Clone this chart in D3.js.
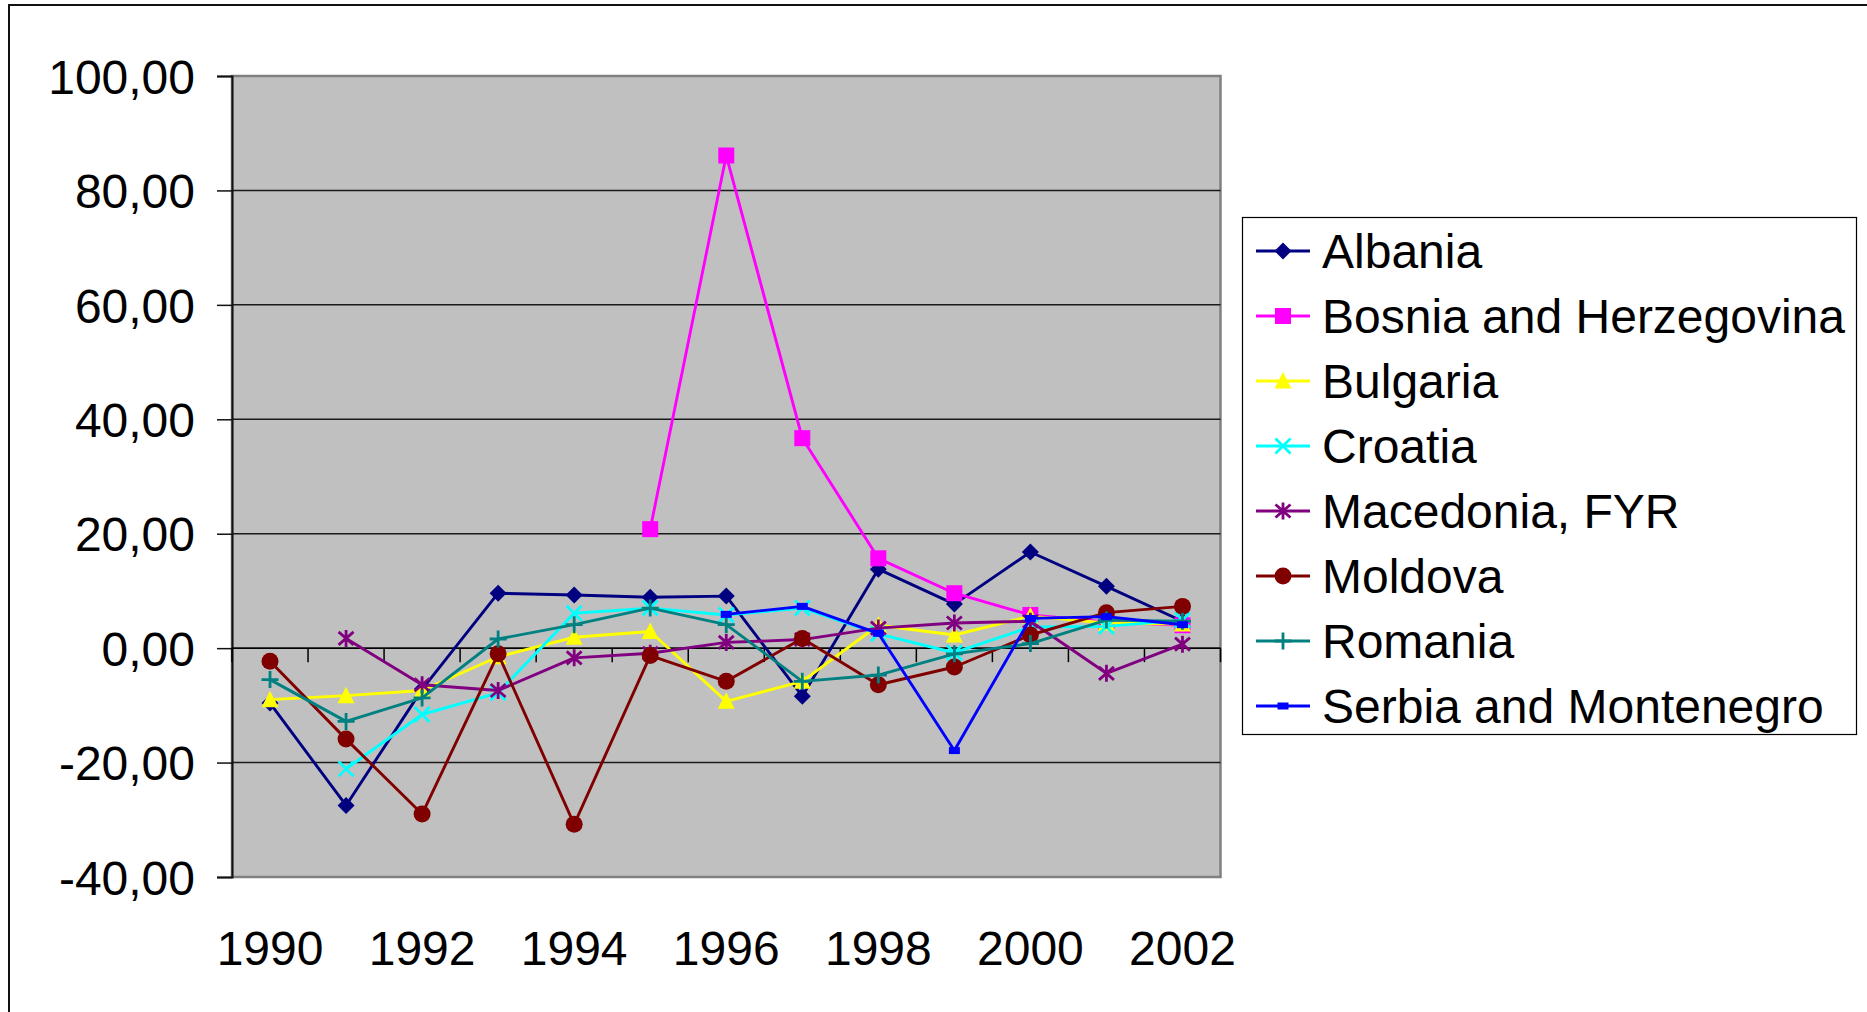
<!DOCTYPE html>
<html><head><meta charset="utf-8">
<script src="https://cdn.jsdelivr.net/npm/d3@7"></script>
<style>
body{margin:0;background:#fff;overflow:hidden}
svg{display:block}
text{font-family:"Liberation Sans",Arial,sans-serif;fill:#000}
</style>
</head><body>
<svg id="chart" width="1867" height="1012"></svg>
<script>
const years = [1990,1991,1992,1993,1994,1995,1996,1997,1998,1999,2000,2001,2002];
const xLabelYears = [1990,1992,1994,1996,1998,2000,2002];
const yTicks = [-40,-20,0,20,40,60,80,100];

const seriesNames = ["Albania","Bosnia and Herzegovina","Bulgaria","Croatia","Macedonia, FYR","Moldova","Romania","Serbia and Montenegro"];
const seriesColors = ["#000080","#FF00FF","#FFFF00","#00FFFF","#800080","#800000","#008080","#0000FF"];
const seriesMarkers = ["diamond","square","triangle","x","asterisk","circle","plus","dash"];

const albania   = [-9.6,-27.5,-7.2,9.6,9.3,8.9,9.1,-8.4,13.8,7.7,16.8,10.8,4.7];
const bosnia    = [null,null,null,null,null,20.8,86.1,36.7,15.7,9.6,5.8,4.6,4.0];
const bulgaria  = [-9.0,-8.3,-7.4,-1.5,1.9,2.9,-9.3,-5.8,4.0,2.3,5.6,4.4,4.2];
const croatia   = [null,-21.1,-11.6,-7.8,6.1,7.0,5.8,7.0,2.5,-0.8,3.7,3.8,4.9];
const macedonia = [null,1.7,-6.4,-7.4,-1.7,-0.9,1.0,1.5,3.5,4.4,4.7,-4.4,0.7];
const moldova   = [-2.3,-15.9,-29.0,-1.0,-30.8,-1.3,-5.8,1.7,-6.4,-3.3,2.3,6.2,7.3];
const romania   = [-5.5,-12.8,-8.7,1.6,4.1,7.0,4.1,-5.8,-4.7,-1.0,0.8,4.9,4.7];
const serbia    = [null,null,null,null,null,null,5.9,7.3,2.6,-17.9,5.2,5.5,4.1];

const seriesValues = [albania,bosnia,bulgaria,croatia,macedonia,moldova,romania,serbia];

const svg = d3.select("#chart");
const L = 232, R = 1220.5, T = 76, B = 877;

const x = d3.scaleBand().domain(years).range([L, R]).paddingInner(0).paddingOuter(0);
const cx = yr => x(yr) + x.bandwidth()/2;
const y = d3.scaleLinear().domain([-40,100]).range([B, T]);
const locale = d3.formatLocale({decimal: ",", thousands: ".", grouping: [3], currency: ["", ""], minus: "-"});
const fmt = locale.format(".2f");

// outer chart border (extends past right and bottom)
svg.append("path").attr("d", `M9,1020 L9,5 L1880,5`).attr("fill","none").attr("stroke","#111").attr("stroke-width",2);

// plot area
svg.append("rect").attr("x",L).attr("y",T).attr("width",R-L).attr("height",B-T)
  .attr("fill","#C0C0C0").attr("stroke","#808080").attr("stroke-width",2.5);

// gridlines
svg.append("g").selectAll("line").data(yTicks.filter(v=>v>-40 && v<100)).join("line")
  .attr("x1",L).attr("x2",R).attr("y1",d=>y(d)).attr("y2",d=>y(d))
  .attr("stroke","#1a1a1a").attr("stroke-width",1.5);

// y axis
const yAxis = svg.append("g").attr("transform",`translate(${L},0)`)
  .call(d3.axisLeft(y).tickValues(yTicks).tickSize(15).tickPadding(22).tickFormat(fmt));
yAxis.select(".domain").attr("stroke","#111").attr("stroke-width",2);
yAxis.selectAll(".tick line").attr("stroke","#111").attr("stroke-width",1.5);
yAxis.selectAll("text").attr("font-size",48).attr("font-family","Liberation Sans, Arial, sans-serif").attr("dy","0.36em");

// category axis line at zero with tick marks at band boundaries
const bounds = years.map(yr => x(yr)).concat([R]);
const catG = svg.append("g");
catG.append("line").attr("x1",L).attr("x2",R).attr("y1",y(0)).attr("y2",y(0)).attr("stroke","#000").attr("stroke-width",1.5);
catG.selectAll("line.tk").data(bounds).join("line").attr("class","tk")
  .attr("x1",d=>d).attr("x2",d=>d).attr("y1",y(0)).attr("y2",y(0)+14)
  .attr("stroke","#000").attr("stroke-width",1.5);

// category labels at bottom
const xAxis = svg.append("g").attr("transform",`translate(0,${B})`)
  .call(d3.axisBottom(x).tickValues(xLabelYears).tickSize(0).tickFormat(d3.format("d")));
xAxis.select(".domain").remove();
xAxis.selectAll("text").attr("font-size",48).attr("font-family","Liberation Sans, Arial, sans-serif")
  .attr("y",71).attr("dy","0.36em");

// markers
function marker(g, type, color, px, py) {
  switch(type) {
    case "diamond":
      g.append("path").attr("d",`M${px},${py-8.5} L${px+8.5},${py} L${px},${py+8.5} L${px-8.5},${py} Z`).attr("fill",color); break;
    case "square":
      g.append("rect").attr("x",px-8).attr("y",py-8).attr("width",16).attr("height",16).attr("fill",color); break;
    case "triangle":
      g.append("path").attr("d",`M${px},${py-9} L${px+8.5},${py+7.5} L${px-8.5},${py+7.5} Z`).attr("fill",color); break;
    case "x":
      g.append("path").attr("d",`M${px-7.5},${py-7.5} L${px+7.5},${py+7.5} M${px-7.5},${py+7.5} L${px+7.5},${py-7.5}`).attr("stroke",color).attr("stroke-width",2.8).attr("fill","none"); break;
    case "asterisk":
      g.append("path").attr("d",`M${px-7.5},${py-6.5} L${px+7.5},${py+6.5} M${px-7.5},${py+6.5} L${px+7.5},${py-6.5} M${px},${py-8.5} L${px},${py+8.5}`).attr("stroke",color).attr("stroke-width",2.8).attr("fill","none"); break;
    case "circle":
      g.append("circle").attr("cx",px).attr("cy",py).attr("r",8.5).attr("fill",color); break;
    case "plus":
      g.append("path").attr("d",`M${px-8.5},${py} L${px+8.5},${py} M${px},${py-8.5} L${px},${py+8.5}`).attr("stroke",color).attr("stroke-width",2.8).attr("fill","none"); break;
    case "dash":
      g.append("rect").attr("x",px-5.5).attr("y",py-3.5).attr("width",11).attr("height",7).attr("fill",color); break;
  }
}

const line = d3.line().defined(d => d.v !== null).x(d => cx(d.yr)).y(d => y(d.v));

seriesValues.forEach((vals, i) => {
  const g = svg.append("g");
  const pts = years.map((yr, j) => ({yr, v: vals[j]}));
  g.append("path").datum(pts).attr("d", line).attr("fill","none")
    .attr("stroke", seriesColors[i]).attr("stroke-width", 2.9).attr("stroke-linejoin","round");
  pts.filter(p => p.v !== null).forEach(p => marker(g, seriesMarkers[i], seriesColors[i], cx(p.yr), y(p.v)));
});

// legend
const lg = svg.append("g");
lg.append("rect").attr("x",1242.5).attr("y",217.5).attr("width",614).attr("height",517)
  .attr("fill","#fff").attr("stroke","#000").attr("stroke-width",1.2);
seriesNames.forEach((name, i) => {
  const ly = 251 + i*65;
  const g = lg.append("g");
  g.append("line").attr("x1",1256).attr("x2",1310).attr("y1",ly).attr("y2",ly)
    .attr("stroke",seriesColors[i]).attr("stroke-width",2.9);
  marker(g, seriesMarkers[i], seriesColors[i], 1283, ly);
  g.append("text").attr("x",1322).attr("y",ly).attr("dy","0.36em").attr("font-size",48).text(name);
});
</script>
</body></html>
